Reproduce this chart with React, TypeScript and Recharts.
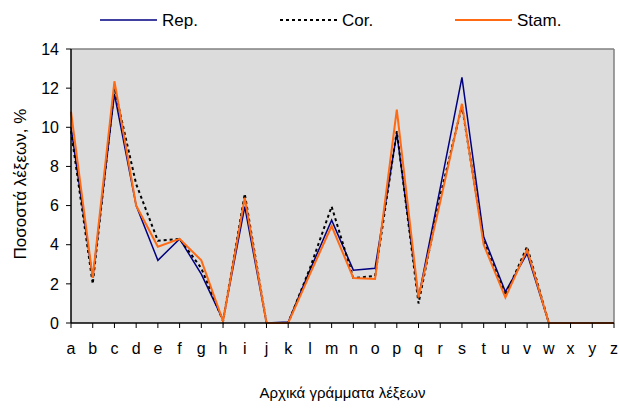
import { CartesianGrid, Line, LineChart, ReferenceLine, XAxis, YAxis } from "recharts";

const LETTERS = "abcdefghijklmnopqrstuvwxyz".split("");

// percentage of words starting with each letter
const REP = [10.0, 2.3, 11.7, 6.0, 3.2, 4.3, 2.5, 0.15, 5.95, 0, 0.05, 2.7, 5.25, 2.7, 2.8, 9.7, 1.3, 6.9, 12.55, 4.4, 1.6, 3.55, 0, 0, 0, 0];
const COR = [9.8, 2.0, 12.0, 7.1, 4.2, 4.3, 2.8, 0.1, 6.6, 0, 0, 2.8, 5.95, 2.3, 2.4, 9.8, 1.0, 6.5, 11.1, 4.2, 1.4, 3.9, 0, 0, 0, 0];
const STAM = [10.8, 2.3, 12.35, 6.0, 3.9, 4.3, 3.2, 0.1, 6.4, 0, 0, 2.5, 4.95, 2.3, 2.25, 10.9, 1.3, 6.2, 11.2, 4.0, 1.3, 3.75, 0, 0, 0, 0];

const Y_TICKS = [0, 2, 4, 6, 8, 10, 12, 14];

const SERIES = [
  { key: "rep", name: "Rep.", color: "#000080", dash: undefined, width: 1.5 },
  { key: "cor", name: "Cor.", color: "#000000", dash: "3 3", width: 2 },
  { key: "stam", name: "Stam.", color: "#FF6A13", dash: undefined, width: 2 },
];

const FONT = "'Liberation Sans', Arial, sans-serif";

const data = LETTERS.map((l, i) => ({ letter: l, rep: REP[i], cor: COR[i], stam: STAM[i] }));

function LegendRow() {
  const items = [
    { x: 100, ...SERIES[0] },
    { x: 280, ...SERIES[1] },
    { x: 455, ...SERIES[2] },
  ];
  return (
    <svg width={619} height={40} style={{ position: "absolute", left: 0, top: 0 }}>
      {items.map((it) => (
        <g key={it.key}>
          <line x1={it.x} x2={it.x + 57} y1={20} y2={20} stroke={it.color} strokeWidth={it.width} strokeDasharray={it.dash} />
          <text x={it.x + 62} y={26} fontFamily={FONT} fontSize={17} fill="#000">
            {it.name}
          </text>
        </g>
      ))}
    </svg>
  );
}

export default function App() {
  return (
    <div style={{ position: "relative", width: 619, height: 411, background: "#fff" }}>
      <style>{"body{margin:0}"}</style>
      <LineChart width={619} height={411} data={data} margin={{ top: 49, right: 5, bottom: 0, left: 5 }}>
        <CartesianGrid horizontal={false} vertical={false} fill="#DCDCDC" />
        <ReferenceLine y={14} stroke="#808080" strokeWidth={1.5} />
        <ReferenceLine x="z" stroke="#808080" strokeWidth={1.5} />
        <XAxis
          dataKey="letter"
          height={88}
          interval={0}
          tickSize={5}
          tickMargin={15}
          axisLine={{ stroke: "#000", strokeWidth: 1.5 }}
          tickLine={{ stroke: "#000" }}
          tick={{ fontSize: 16, fill: "#000", fontFamily: FONT }}
          label={{ value: "Αρχικά γράμματα λέξεων", position: "insideBottom", offset: 13, fontSize: 15, fill: "#000", fontFamily: FONT }}
        />
        <YAxis
          domain={[0, 14]}
          ticks={Y_TICKS}
          width={66}
          tickSize={5}
          tickMargin={7}
          axisLine={{ stroke: "#000", strokeWidth: 1.5 }}
          tickLine={{ stroke: "#000" }}
          tick={{ fontSize: 16, fill: "#000", fontFamily: FONT }}
          label={{
            content: () => (
              <text x={20} y={184} transform="rotate(-90 20 184)" textAnchor="middle" dominantBaseline="central" fontSize={17} fontFamily={FONT} fill="#000">
                Ποσοστά λέξεων, %
              </text>
            ),
          }}
        />
        {SERIES.map((s) => (
          <Line
            key={s.key}
            type="linear"
            dataKey={s.key}
            name={s.name}
            stroke={s.color}
            strokeWidth={s.width}
            strokeDasharray={s.dash}
            dot={false}
            activeDot={false}
            isAnimationActive={false}
          />
        ))}
      </LineChart>
      <LegendRow />
    </div>
  );
}
